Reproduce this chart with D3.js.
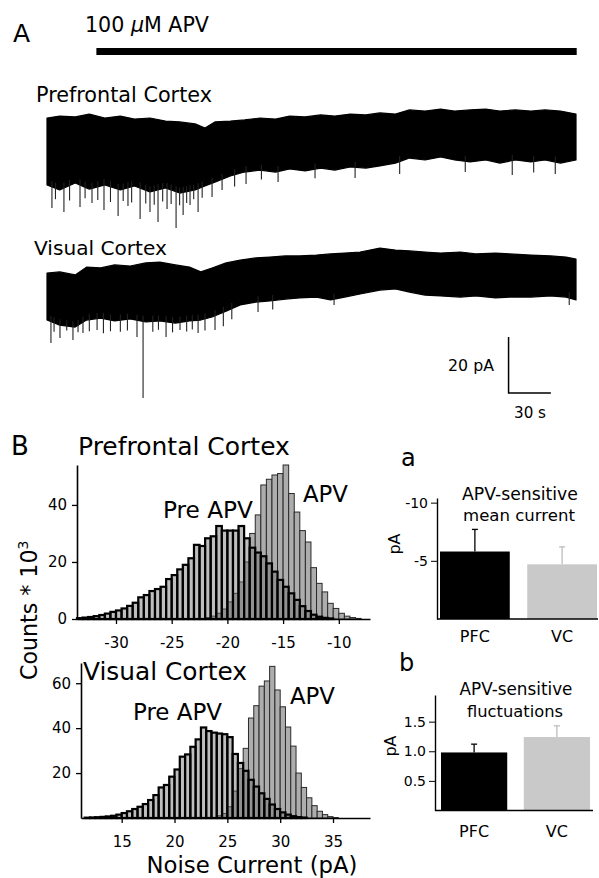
<!DOCTYPE html>
<html><head><meta charset="utf-8">
<script src="https://cdn.jsdelivr.net/npm/d3@7"></script>
<style>body{margin:0;background:#fff}svg{display:block}text{font-family:"DejaVu Sans",sans-serif;fill:#000}</style>
</head><body><svg id="c" width="599" height="878"></svg>
<script>
// ---------- Panel A data (time in s, current in pA, offsets arbitrary) ----------
const apvStart = 35, apvEnd = 375.5;
const pfcTimes = [0,9,20,30,41,52,62,73,84,94,105,112,119,130,140,151,162,172,183,194,204,215,226,236,247,257,268,279,289,300,311,321,332,343,353,364,375];
const pfcTop = [0,0.7,0.4,1.4,0,0.7,-0.4,0,-1.1,-1.4,-2.1,-3.6,-1.4,-1.1,-0.7,0,-0.4,0.7,0.4,1.1,0.7,1.4,1.1,1.8,1.4,2.9,2.5,3.2,2.5,2.9,3.2,2.5,2.9,2.5,2.9,2.5,1.4];
const pfcBottom = [-23.9,-25.7,-23.2,-25.4,-23.9,-25.7,-24.3,-26.4,-25,-26.8,-25.7,-24.3,-22.9,-20.7,-19.3,-18.6,-19.3,-18.2,-18.9,-17.9,-18.6,-17.5,-17.9,-17.1,-16.1,-14.3,-15,-13.9,-15,-15.7,-15,-16.1,-15,-15.7,-15,-16.1,-15];
const pfcSpikeT = [3.5,6,12,16,23.4,27,31.9,36,40.4,45,50.4,54,57.4,60,66,70,73,76,78.7,82,85.1,88,91.5,94,96.5,99,101.4,104,107.1,110,117,124.1,133,141.1,152,163.8,190,218.4,250,296.5,329.8,345,360.3];
const pfcSpikeV = [-32.1,-29,-33.6,-29.5,-31.8,-28.7,-30.4,-29.3,-32.9,-30,-35,-29.6,-31.4,-30.2,-36.1,-30.5,-33.6,-31,-37.1,-29.8,-32.5,-30.7,-39.3,-31.2,-34.6,-30.4,-31.1,-29,-33.6,-28.5,-28.2,-25.7,-24.5,-23.6,-22,-22.9,-21.5,-21.4,-20,-19.3,-20.4,-19.5,-20];

const vcTimes = [0,9,20,28,38,48,59,70,80,91,101,109,117,127,137,148,158,169,179,191,201,211,222,236,247,257,268,279,293,304,318,328,343,357,368,375];
const vcTop = [0,0.4,-0.7,2.1,1.8,2.9,2.5,3.6,3.9,2.9,2.1,0.4,1.8,3.6,4.6,5.4,5.7,6.1,6.1,6.4,6.8,7.1,7.5,8.9,8.2,7.9,7.5,7.1,7.5,6.8,7.1,6.8,6.4,6.1,5.7,5];
const vcBottom = [-16.8,-18.6,-19.3,-16.8,-16.1,-17.1,-16.4,-17.5,-17.1,-17.9,-17.1,-16.8,-15.7,-13.6,-11.4,-10.4,-10,-9.3,-8.9,-8.6,-9.6,-8.6,-7.5,-6.1,-5.7,-6.8,-7.9,-8.2,-8.6,-8.2,-8.9,-8.6,-8.6,-8.2,-8.6,-9.6];
const vcSpikeT = [2.8,5,9.2,14,18.4,22,25.5,30,35.5,40,45,52,57,63.8,68.1,75,79,84.4,89,94.3,99,103,107.1,112,119.1,125,131,149.6,160,203.5,370.2];
const vcSpikeV = [-25,-21,-23.2,-20.5,-23.9,-21.2,-21.4,-20.8,-20.4,-21.5,-20.8,-21,-20.5,-22.9,-44.6,-21,-20.3,-22.9,-21.2,-20.4,-20.9,-20.2,-21.4,-20.5,-20.4,-19,-16.5,-13.9,-13,-11.4,-11.4];
const scaleBarT = 30, scaleBarPA = 20;

// ---------- Panel B histograms (bin start, pA; counts *10^3) ----------
const binWidth = 0.5;
const pfcBins = [-33.5,-33,-32.5,-32,-31.5,-31,-30.5,-30,-29.5,-29,-28.5,-28,-27.5,-27,-26.5,-26,-25.5,-25,-24.5,-24,-23.5,-23,-22.5,-22,-21.5,-21,-20.5,-20,-19.5,-19,-18.5,-18,-17.5,-17,-16.5,-16,-15.5,-15,-14.5,-14,-13.5,-13,-12.5,-12,-11.5,-11,-10.5,-10,-9.5,-9,-8.5];
const pfcPre = [0.3,0.5,0.7,1.0,1.4,1.9,2.5,3.0,3.7,4.6,5.7,7.6,8.4,9.8,10.5,11.3,14,15.4,17.4,19,21.3,26,25.6,28.3,29,32.6,31,31,31,32.6,28.3,25,23.3,22,19.5,16.6,13.7,11.3,9,6.7,4.5,2.8,1.5,0.8,0.4,0.2,0,0,0,0,0];
const pfcApv = [0,0,0,0,0,0,0,0,0,0,0,0,0,0,0,0,0,0,0,0,0,0,0,0.5,1,2,3.5,6,9,13,20,30,36.5,47,49,50.5,51,54,44,37.5,31,27,18,12.5,9.5,5.5,3.7,2,1,0.5,0.2];
const pfcXTicks = [-30,-25,-20,-15,-10];
const pfcYTicks = [0,20,40];

const vcBins = [11.5,12,12.5,13,13.5,14,14.5,15,15.5,16,16.5,17,17.5,18,18.5,19,19.5,20,20.5,21,21.5,22,22.5,23,23.5,24,24.5,25,25.5,26,26.5,27,27.5,28,28.5,29,29.5,30,30.5,31,31.5,32,32.5,33,33.5,34,34.5,35];
const vcPre = [0.15,0.25,0.35,0.5,0.7,1.0,1.5,2.2,3.0,4.0,5.0,6.2,8.0,10.2,13.6,14.7,18.4,21.6,27.3,28.3,31.7,35,40.3,38.7,38,37.6,37.3,36,28.5,24.5,21,17,14,11,8.5,6,4,2.5,1.5,0.8,0.4,0.2,0,0,0,0,0,0];
const vcApv = [0,0,0,0,0,0,0,0,0,0,0,0,0,0,0,0,0,0,0,0,0,0,0,0,0,1,2,5,12,22,31,44.5,50,58.7,61,67.5,57,49.5,40.5,32,20,13.6,9,5.5,3,1.5,0.6,0.2];
const vcXTicks = [15,20,25,30,35];
const vcYTicks = [20,40,60];

// ---------- Panel B bar charts ----------
const groups = ["PFC","VC"];
const meanCurrent = [-5.8,-4.7];
const meanCurrentErr = [1.9,1.5];
const meanTicks = [-10,-5];
const fluct = [0.98,1.24];
const fluctErr = [0.14,0.19];
const fluctTicks = [0.5,1.0,1.5];
const barColors = ["#000000","#c9c9c9"];
const errColors = ["#000000","#bdbdbd"];

// =====================================================================
const svg = d3.select("#c");
const FF = "DejaVu Sans";
function fit(sel, w){ const n=sel.node(); const fs=parseFloat(sel.attr("font-size")); const L=n.getComputedTextLength(); if(L>0) sel.attr("font-size", fs*w/L); return sel; }
function txt(x,y,s,fs,anchor){ return svg.append("text").attr("x",x).attr("y",y).attr("font-size",fs).attr("text-anchor",anchor||"start").text(s); }

// ---------- Panel A ----------
txt(13,42,"A",25);
const apvLbl = svg.append("text").attr("x",85).attr("y",32).attr("font-size",16);
apvLbl.append("tspan").text("100 ");
apvLbl.append("tspan").attr("font-style","italic").text("\u03bc");
apvLbl.append("tspan").text("M APV");
fit(apvLbl,124);

const xT = d3.scaleLinear().domain([0,375]).range([47,576]);
svg.append("line").attr("x1",xT(apvStart)).attr("x2",xT(apvEnd)).attr("y1",51.5).attr("y2",51.5).attr("stroke","#000").attr("stroke-width",7);

fit(txt(36,102,"Prefrontal Cortex",18),176);
fit(txt(34,255,"Visual Cortex",18),133);

const yP = d3.scaleLinear().domain([-50,10]).range([258,90]);
const yV = d3.scaleLinear().domain([-50,10]).range([413,245]);

function trace(times, top, bottom, spT, spV, ys){
  const g = svg.append("g");
  const idx = d3.range(times.length);
  const area = d3.area().x(i=>xT(times[i])).y0(i=>ys(bottom[i])).y1(i=>ys(top[i]));
  g.append("path").attr("d",area(idx)).attr("fill","#000").attr("stroke","#000").attr("stroke-width",1.2).attr("stroke-linejoin","round");
  const bis = d3.bisector(d=>d).left;
  function bottomAt(t){ let i=bis(times,t); if(i<=0) return bottom[0]; if(i>=times.length) return bottom[times.length-1];
    const f=(t-times[i-1])/(times[i]-times[i-1]); return bottom[i-1]+(bottom[i]-bottom[i-1])*f; }
  spT.forEach((t,k)=>{
    g.append("line").attr("x1",xT(t)).attr("x2",xT(t)).attr("y1",ys(bottomAt(t)+2)).attr("y2",ys(spV[k]))
     .attr("stroke","#222").attr("stroke-width",1.1);
  });
}
trace(pfcTimes,pfcTop,pfcBottom,pfcSpikeT,pfcSpikeV,yP);
trace(vcTimes,vcTop,vcBottom,vcSpikeT,vcSpikeV,yV);

// scale bar
const sbT0 = 327.2, sbV0 = -42.9;
svg.append("path").attr("d",`M${xT(sbT0)},${yV(sbV0+scaleBarPA)}V${yV(sbV0)}H${xT(sbT0+scaleBarT)}`)
  .attr("fill","none").attr("stroke","#000").attr("stroke-width",1.5);
fit(txt(494,371,scaleBarPA+" pA",15,"end"),46);
fit(txt(530,418,scaleBarT+" s",15,"middle"),32);

// ---------- Panel B histograms ----------
txt(11,455,"B",26);
function hist(cfg){
  const g = svg.append("g");
  const xs = d3.scaleLinear().domain(cfg.xDomain).range(cfg.xRange);
  const ys = d3.scaleLinear().domain(cfg.yDomain).range(cfg.yRange);
  g.append("g").selectAll("rect").data(cfg.bins).join("rect")
    .attr("x",d=>xs(d)).attr("width",d=>xs(d+binWidth)-xs(d))
    .attr("y",(d,i)=>ys(cfg.apv[i])).attr("height",(d,i)=>ys(0)-ys(cfg.apv[i]))
    .attr("fill","#adadad").attr("stroke","#2a2a2a").attr("stroke-width",1)
    .attr("display",(d,i)=>cfg.apv[i]>0?null:"none");
  g.append("g").selectAll("rect").data(cfg.bins).join("rect")
    .attr("x",d=>xs(d)).attr("width",d=>xs(d+binWidth)-xs(d))
    .attr("y",(d,i)=>ys(cfg.pre[i])).attr("height",(d,i)=>ys(0)-ys(cfg.pre[i]))
    .attr("fill","rgba(110,110,110,0.45)").attr("stroke","#000").attr("stroke-width",2.2)
    .attr("display",(d,i)=>cfg.pre[i]>0?null:"none");
  const ya = g.append("g").attr("transform",`translate(${cfg.xRange[0]},0)`)
    .call(d3.axisLeft(ys).tickValues(cfg.yTicks).tickSize(5).tickSizeOuter(0).tickFormat(d=>d));
  const xa = g.append("g").attr("transform",`translate(0,${cfg.yRange[0]})`)
    .call(d3.axisBottom(xs).tickValues(cfg.xTicks).tickSize(5).tickSizeOuter(0).tickFormat(d=>d));
  [ya,xa].forEach(a=>{a.attr("font-family",FF).attr("font-size",15);
    a.select(".domain").attr("stroke-width",1.6); a.selectAll(".tick line").attr("stroke-width",1.3);});
  ya.selectAll("text").attr("x",-10);
  xa.selectAll("text").attr("y",29).attr("dy",0);
  return {xs,ys};
}
hist({xDomain:[-33.5,-7.2],xRange:[77,370],yDomain:[0,54],yRange:[619,465],bins:pfcBins,pre:pfcPre,apv:pfcApv,xTicks:pfcXTicks,yTicks:pfcYTicks});
hist({xDomain:[11.15,38.5],xRange:[81,370],yDomain:[0,69],yRange:[818,663],bins:vcBins,pre:vcPre,apv:vcApv,xTicks:vcXTicks,yTicks:vcYTicks});

fit(txt(78,455,"Prefrontal Cortex",24),212);
fit(txt(83,680,"Visual Cortex",24),164);
fit(txt(163,518,"Pre APV",20),90);
fit(txt(303,502,"APV",20),45);
fit(txt(133,720,"Pre APV",20),89);
fit(txt(290,704,"APV",20),45);
fit(txt(252,873,"Noise Current (pA)",22,"middle"),211);

const yl = svg.append("text").attr("transform","translate(37,680) rotate(-90)").attr("font-size",21);
yl.append("tspan").text("Counts  * 10");
yl.append("tspan").attr("dy",-9).attr("font-size",14).text("3");
(function(){const L=yl.node().getComputedTextLength(); const fs=21*140/L; yl.attr("font-size",fs); })();

// ---------- Panel B bar charts ----------
function barChart(cfg){
  const g = svg.append("g");
  const xb = d3.scaleBand().domain(groups).range(cfg.xRange).paddingInner(0.2);
  const ys = d3.scaleLinear().domain(cfg.yDomain).range(cfg.yRange);
  g.selectAll("rect").data(groups).join("rect")
    .attr("x",d=>xb(d)).attr("width",xb.bandwidth())
    .attr("y",(d,i)=>Math.min(ys(cfg.vals[i]),ys(0))).attr("height",(d,i)=>Math.abs(ys(0)-ys(cfg.vals[i])))
    .attr("fill",(d,i)=>barColors[i]);
  groups.forEach((d,i)=>{
    const cx = xb(d)+xb.bandwidth()/2;
    const v = cfg.vals[i], e = cfg.errs[i]*Math.sign(v);
    g.append("line").attr("x1",cx).attr("x2",cx).attr("y1",ys(v)).attr("y2",ys(v+e)).attr("stroke",errColors[i]).attr("stroke-width",1.3);
    g.append("line").attr("x1",cx-3).attr("x2",cx+3).attr("y1",ys(v+e)).attr("y2",ys(v+e)).attr("stroke",errColors[i]).attr("stroke-width",1.3);
    txt(cx, cfg.labelY, d, 16, "middle");
  });
  const ya = g.append("g").attr("transform",`translate(${cfg.axisX},0)`)
    .call(d3.axisLeft(ys).tickValues(cfg.ticks).tickSize(6).tickSizeOuter(0).tickFormat(cfg.fmt));
  ya.attr("font-family",FF).attr("font-size",14);
  ya.select(".domain").attr("stroke-width",1.4);
  ya.selectAll("text").attr("x",-9);
  g.append("line").attr("x1",cfg.axisX).attr("x2",cfg.axisRight).attr("y1",cfg.yRange[0]).attr("y2",cfg.yRange[0]).attr("stroke","#000").attr("stroke-width",1.6);
}
barChart({xRange:[440,597],yDomain:[0,-10.4],yRange:[619,498],vals:meanCurrent,errs:meanCurrentErr,ticks:meanTicks,fmt:d=>String(d),axisX:437,axisRight:598,labelY:642});
barChart({xRange:[441,590],yDomain:[0,1.95],yRange:[810.5,695],vals:fluct,errs:fluctErr,ticks:fluctTicks,fmt:d3.format(".1f"),axisX:435,axisRight:593,labelY:837});

txt(401,466,"a",24);
txt(399,671,"b",24);
fit(txt(520,500,"APV-sensitive",16,"middle"),116);
fit(txt(519,521,"mean current",16,"middle"),112);
fit(txt(516,695,"APV-sensitive",16,"middle"),113);
fit(txt(515,717,"fluctuations",16,"middle"),96);
svg.append("text").attr("transform","translate(400,544) rotate(-90)").attr("font-size",16).attr("text-anchor","middle").text("pA");
svg.append("text").attr("transform","translate(396,746) rotate(-90)").attr("font-size",16).attr("text-anchor","middle").text("pA");
</script></body></html>
